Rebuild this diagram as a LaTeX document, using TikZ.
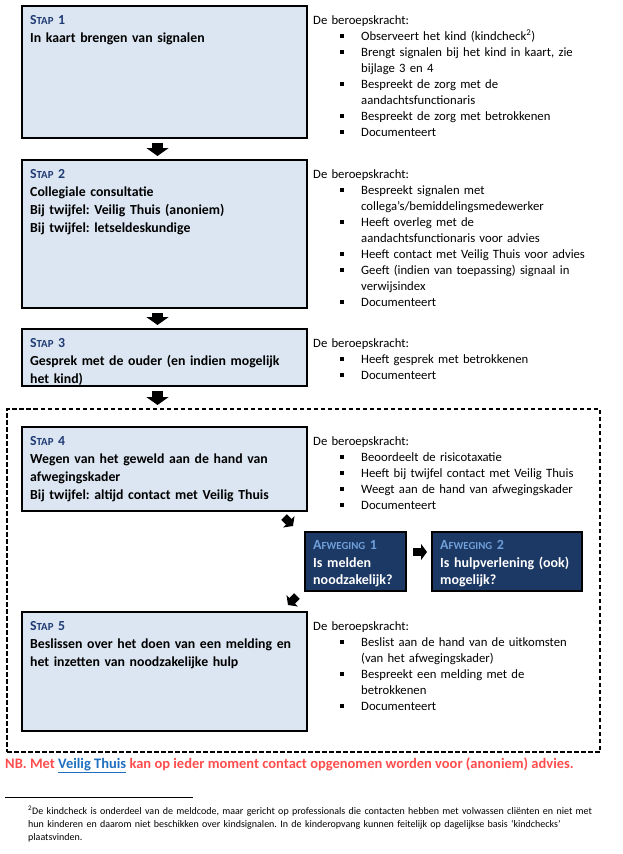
\documentclass[tikz,border=0pt]{standalone}
\usepackage{fontspec}
\setmainfont{Carlito}
\usetikzlibrary{arrows.meta}
\definecolor{lichtblauw}{HTML}{DCE6F2}
\definecolor{stapblauw}{HTML}{1F3B73}
\definecolor{afwegingblauw}{HTML}{1C3864}
\definecolor{afwegingtitel}{HTML}{6F9FD8}
\definecolor{nbrood}{HTML}{FF4D4D}
\definecolor{linkblauw}{HTML}{1F6FC0}
\frenchspacing
\newcommand{\klein}[1]{{\fontsize{10.8}{12}\selectfont #1}}
\newcommand{\staplabel}[1]{\textcolor{stapblauw}{S\klein{TAP} #1}}
\newcommand{\punt}[1]{\par\noindent\hangindent=48pt\hangafter=1\hspace*{27pt}\makebox[21pt][l]{\raisebox{2.5pt}{\rule{3.5pt}{3.5pt}}}#1}
\begin{document}
\begin{tikzpicture}[x=1pt,y=-1pt,
    stapbox/.style={draw,line width=2pt,fill=lichtblauw,minimum width=285pt,anchor=north west,inner sep=0,outer sep=0},
    staptekst/.style={anchor=north west,text width=280pt,align=left,inner xsep=8pt,inner ysep=9.5pt,font=\bfseries\fontsize{13.8}{18}\selectfont},
    tekstblok/.style={anchor=north west,text width=300pt,align=left,inner xsep=0,inner ysep=9pt,font=\fontsize{12.7}{16}\selectfont},
    afwbox/.style={draw,line width=1.5pt,fill=afwegingblauw,minimum height=59pt,anchor=north west,inner sep=0,outer sep=0},
    afwtekst/.style={anchor=north west,text width=140pt,align=left,inner xsep=8pt,inner ysep=8.5pt,text=white,font=\bfseries\fontsize{14}{17.5}\selectfont},
    kader/.style={draw,dash pattern=on 4.5pt off 2.5pt,line width=1.3pt,minimum width=593pt,minimum height=343pt,anchor=north west,inner sep=0,outer sep=0},
    blokpijl/.style={line width=11pt,-{Triangle[width=22pt,length=8pt]},shorten <=5pt,shorten >=4pt},
    kleinpijl/.style={line width=8pt,-{Triangle[width=16pt,length=6pt]}}]
  \useasboundingbox (0,0) rectangle (623,854);
  \node[kader] (kader) at (7,409) {};

  \node[stapbox,minimum height=132pt] (stap1) at (22,6) {};
  \node[staptekst] (stap1tekst) at (stap1.north west) {\staplabel{1}\\In kaart brengen van signalen};
  \node[tekstblok] (stap1rechts) at ([xshift=6pt]stap1.north east) {\noindent De beroepskracht:
    \punt{Observeert het kind (kindcheck\textsuperscript{2})}
    \punt{Brengt signalen bij het kind in kaart, zie\newline bijlage 3 en 4}
    \punt{Bespreekt de zorg met de\newline aandachtsfunctionaris}
    \punt{Bespreekt de zorg met betrokkenen}
    \punt{Documenteert}};

  \node[stapbox,minimum height=148pt] (stap2) at (22,160) {};
  \node[staptekst] (stap2tekst) at (stap2.north west) {\staplabel{2}\\Collegiale consultatie\\Bij twijfel: Veilig Thuis (anoniem)\\Bij twijfel: letseldeskundige};
  \node[tekstblok] (stap2rechts) at ([xshift=6pt]stap2.north east) {\noindent De beroepskracht:
    \punt{Bespreekt signalen met\newline collega’s/bemiddelingsmedewerker}
    \punt{Heeft overleg met de\newline aandachtsfunctionaris voor advies}
    \punt{Heeft contact met Veilig Thuis voor advies}
    \punt{Geeft (indien van toepassing) signaal in\newline verwijsindex}
    \punt{Documenteert}};

  \node[stapbox,minimum height=57pt] (stap3) at (22,329) {};
  \node[staptekst] (stap3tekst) at (stap3.north west) {\staplabel{3}\\Gesprek met de ouder (en indien mogelijk\\het kind)};
  \node[tekstblok] (stap3rechts) at ([xshift=6pt]stap3.north east) {\noindent De beroepskracht:
    \punt{Heeft gesprek met betrokkenen}
    \punt{Documenteert}};

  \node[stapbox,minimum height=84pt] (stap4) at (22,427) {};
  \node[staptekst] (stap4tekst) at (stap4.north west) {\staplabel{4}\\Wegen van het geweld aan de hand van\\afwegingskader\\Bij twijfel: altijd contact met Veilig Thuis};
  \node[tekstblok] (stap4rechts) at ([xshift=6pt]stap4.north east) {\noindent De beroepskracht:
    \punt{Beoordeelt de risicotaxatie}
    \punt{Heeft bij twijfel contact met Veilig Thuis}
    \punt{Weegt aan de hand van afwegingskader}
    \punt{Documenteert}};

  \node[afwbox,minimum width=101pt] (afw1) at (305,532) {};
  \node[afwtekst] (afw1tekst) at (afw1.north west) {\textcolor{afwegingtitel}{A\klein{FWEGING} 1}\\Is melden\\noodzakelijk?};
  \node[afwbox,minimum width=150pt] (afw2) at (432,532) {};
  \node[afwtekst] (afw2tekst) at (afw2.north west) {\textcolor{afwegingtitel}{A\klein{FWEGING} 2}\\Is hulpverlening (ook)\\mogelijk?};

  \node[stapbox,minimum height=119pt] (stap5) at (22,612) {};
  \node[staptekst] (stap5tekst) at (stap5.north west) {\staplabel{5}\\Beslissen over het doen van een melding en\\het inzetten van noodzakelijke hulp};
  \node[tekstblok] (stap5rechts) at ([xshift=6pt]stap5.north east) {\noindent De beroepskracht:
    \punt{Beslist aan de hand van de uitkomsten\newline (van het afwegingskader)}
    \punt{Bespreekt een melding met de\newline betrokkenen}
    \punt{Documenteert}};

  \draw[blokpijl] ([xshift=-7pt]stap1.south) -- ([xshift=-7pt]stap2.north);
  \draw[blokpijl] ([xshift=-7pt]stap2.south) -- ([xshift=-7pt]stap3.north);
  \draw[blokpijl] ([xshift=-7pt]stap3.south) -- ([xshift=-7pt]stap3.south |- kader.north);

  \coordinate (pijl4a) at ([shift={(-23,6)}]stap4.south east);
  \coordinate (pijl4b) at ([shift={(-14,15)}]stap4.south east);
  \draw[kleinpijl] (pijl4a) -- (pijl4b);
  \draw[kleinpijl,shorten <=7pt,shorten >=5pt] ([yshift=9.5pt]afw1.east) -- ([yshift=9.5pt]afw2.west);
  \coordinate (pijl5a) at ([shift={(-8,5)}]afw1.south west);
  \coordinate (pijl5b) at ([shift={(-17,14)}]afw1.south west);
  \draw[kleinpijl] (pijl5a) -- (pijl5b);

  \node[anchor=base west,inner sep=0,text=nbrood,font=\bfseries\fontsize{14.5}{17}\selectfont] (nb) at (5,768) {NB. Met \textcolor{linkblauw}{\underline{Veilig Thuis}} kan op ieder moment contact opgenomen worden voor (anoniem) advies.};

  \coordinate (voet1) at (5,797);
  \coordinate (voet2) at (193,797);
  \draw[line width=0.8pt] (voet1) -- (voet2);
  \node[anchor=north west,inner sep=0,text width=590pt,align=left,font=\fontsize{10}{13}\selectfont] (voetnoot) at (28,806) {\textsuperscript{2}De kindcheck is onderdeel van de meldcode, maar gericht op professionals die contacten hebben met volwassen cliënten en niet met\\hun kinderen en daarom niet beschikken over kindsignalen. In de kinderopvang kunnen feitelijk op dagelijkse basis ‘kindchecks’\\plaatsvinden.};
\end{tikzpicture}
\end{document}
